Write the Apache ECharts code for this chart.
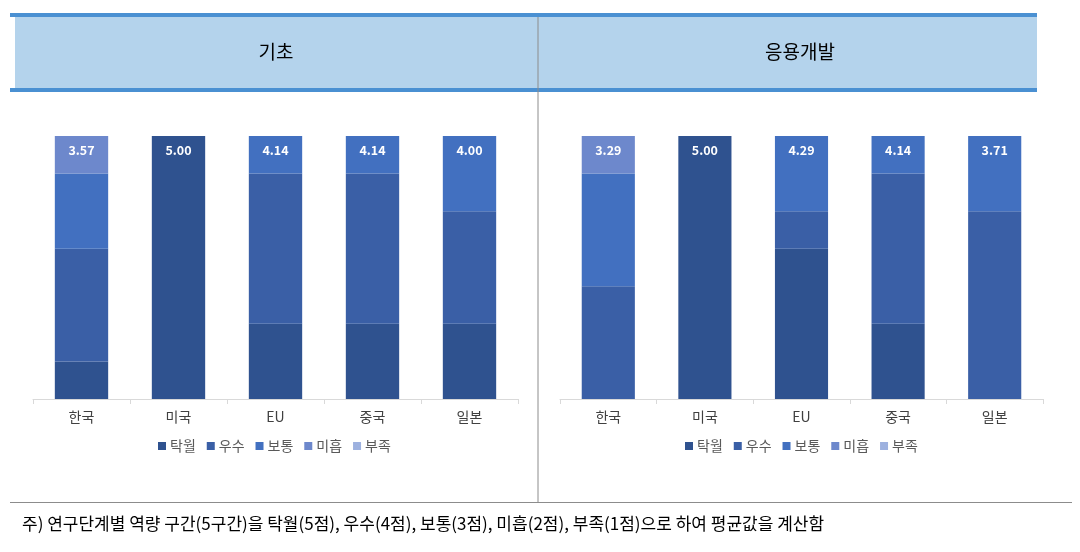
<!DOCTYPE html>
<html>
<head>
<meta charset="utf-8">
<script src="https://cdn.jsdelivr.net/npm/echarts@6/dist/echarts.min.js"></script>
<style>
html,body{margin:0;padding:0;background:#fff;}
#main{width:1080px;height:552px;}
</style>
</head>
<body>
<div id="main"></div>
<script>
const categories = ['한국', '미국', 'EU', '중국', '일본'];
const levels = ['탁월', '우수', '보통', '미흡', '부족'];
const panelTitles = ['기초', '응용개발'];

// number of respondents (out of 7) in each level, 기초
const basicExcellent = [1, 7, 2, 2, 2];
const basicGood      = [3, 0, 4, 4, 3];
const basicFair      = [2, 0, 1, 1, 2];
const basicPoor      = [1, 0, 0, 0, 0];
const basicLacking   = [0, 0, 0, 0, 0];
const basicAvg       = ['3.57', '5.00', '4.14', '4.14', '4.00'];

// 응용개발
const appliedExcellent = [0, 7, 4, 2, 0];
const appliedGood      = [3, 0, 1, 4, 5];
const appliedFair      = [3, 0, 2, 1, 2];
const appliedPoor      = [1, 0, 0, 0, 0];
const appliedLacking   = [0, 0, 0, 0, 0];
const appliedAvg       = ['3.29', '5.00', '4.29', '4.14', '3.71'];

const footnote = '주) 연구단계별 역량 구간(5구간)을 탁월(5점), 우수(4점), 보통(3점), 미흡(2점), 부족(1점)으로 하여 평균값을 계산함';

const colors = ['#2F528F', '#3A5FA6', '#4270C0', '#6D88CC', '#9DB1DF'];
const FONT = '"Noto Sans CJK KR", "Noto Sans", sans-serif';

function buildSeries(sets, avg, idx) {
  return sets.map((vals, si) => ({
    name: levels[si],
    type: 'bar',
    stack: 'S' + idx,
    xAxisIndex: idx,
    yAxisIndex: idx,
    barWidth: '55%',
    itemStyle: { color: colors[si] },
    emphasis: { disabled: true },
    data: vals.map((v, ci) => {
      let top = -1;
      for (let k = 0; k < sets.length; k++) if (sets[k][ci] > 0) top = k;
      const item = { value: v };
      if (top === si) {
        item.label = {
          show: true, position: 'insideTop', distance: 8,
          formatter: avg[ci], color: '#fff', fontWeight: 'bold',
          fontSize: 12.5, fontFamily: FONT
        };
      }
      return item;
    })
  }));
}

const chart = echarts.init(document.getElementById('main'), null, { renderer: 'canvas' });

const xAxisCommon = {
  type: 'category',
  data: categories,
  axisLine: { lineStyle: { color: '#D9D9D9' } },
  axisTick: { show: true, length: 5, lineStyle: { color: '#D9D9D9' } },
  axisLabel: { color: '#404040', fontSize: 14, margin: 11, fontFamily: FONT }
};
const yAxisCommon = { type: 'value', min: 0, max: 7, show: false };
const legendCommon = {
  data: levels, icon: 'rect', itemWidth: 8, itemHeight: 8, itemGap: 11,
  top: 439, padding: 0,
  textStyle: { color: '#595959', fontSize: 14, fontFamily: FONT, padding: [0, 0, 0, -1] }
};

chart.setOption({
  animation: false,
  textStyle: { fontFamily: FONT },
  graphic: [
    { type: 'rect', shape: { x: 15, y: 17, width: 1022, height: 71 }, style: { fill: '#B4D3EC' }, silent: true },
    { type: 'rect', shape: { x: 10, y: 13, width: 1027, height: 4 }, style: { fill: '#4A90D2' }, silent: true },
    { type: 'rect', shape: { x: 10, y: 88, width: 1027, height: 4 }, style: { fill: '#4A90D2' }, silent: true },
    { type: 'line', shape: { x1: 538, y1: 17, x2: 538, y2: 502 }, style: { stroke: '#8C8C8C', lineWidth: 1 }, silent: true },
    { type: 'line', shape: { x1: 10, y1: 502.5, x2: 1072, y2: 502.5 }, style: { stroke: '#8C8C8C', lineWidth: 1.2 }, silent: true },
    { type: 'text', x: 276, y: 52, style: { text: panelTitles[0], fill: '#000', fontSize: 19, fontFamily: FONT, textAlign: 'center', textVerticalAlign: 'middle' }, silent: true },
    { type: 'text', x: 800, y: 52, style: { text: panelTitles[1], fill: '#000', fontSize: 19, fontFamily: FONT, textAlign: 'center', textVerticalAlign: 'middle' }, silent: true },
    { type: 'text', x: 22, y: 524, style: { text: footnote, fill: '#000', fontSize: 17, fontFamily: FONT, textAlign: 'left', textVerticalAlign: 'middle' }, silent: true }
  ],
  grid: [
    { left: 33, width: 485, top: 136, height: 263 },
    { left: 560, width: 483, top: 136, height: 263 }
  ],
  xAxis: [
    Object.assign({ gridIndex: 0 }, xAxisCommon),
    Object.assign({ gridIndex: 1 }, xAxisCommon)
  ],
  yAxis: [
    Object.assign({ gridIndex: 0 }, yAxisCommon),
    Object.assign({ gridIndex: 1 }, yAxisCommon)
  ],
  legend: [
    Object.assign({ left: 158 }, legendCommon),
    Object.assign({ left: 685 }, legendCommon)
  ],
  series: [].concat(
    buildSeries([basicExcellent, basicGood, basicFair, basicPoor, basicLacking], basicAvg, 0),
    buildSeries([appliedExcellent, appliedGood, appliedFair, appliedPoor, appliedLacking], appliedAvg, 1)
  )
});
</script>
</body>
</html>
